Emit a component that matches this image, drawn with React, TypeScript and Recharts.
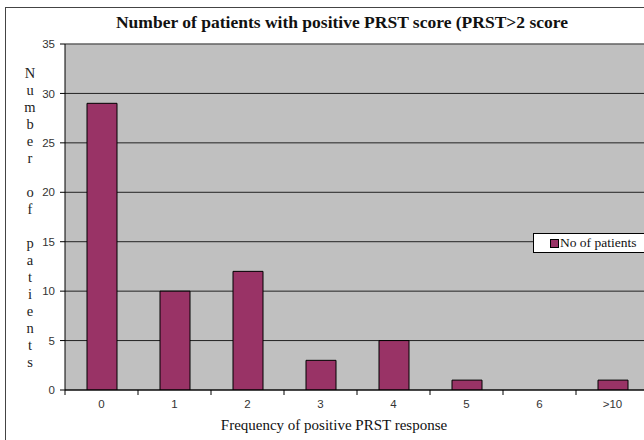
import React from 'react';
import { BarChart, Bar, XAxis, YAxis, CartesianGrid, Legend, ReferenceLine } from 'recharts';

const categories = ['0', '1', '2', '3', '4', '5', '6', '>10'];
const patients = [29, 10, 12, 3, 5, 1, 0, 1];
const yTicks = [0, 5, 10, 15, 20, 25, 30, 35];
const chartTitle = 'Number of patients with positive PRST score (PRST>2 score';
const xTitle = 'Frequency of positive PRST response';
const yTitle = 'Number of patients';
const seriesName = 'No of patients';

const data = categories.map((c, i) => ({ category: c, patients: patients[i] }));

const CHART_W = 660;
const CHART_H = 440;
const MARGIN = { top: 44, right: 11, bottom: 0, left: 0 };
const Y_AXIS_W = 65;
const X_AXIS_H = 50;
const plotW = CHART_W - MARGIN.left - MARGIN.right - Y_AXIS_W;
const bandW = plotW / categories.length;

const SERIF = '"Liberation Serif", "Times New Roman", serif';
const SANS = '"Liberation Sans", Arial, sans-serif';
const BAR_COLOR = '#993366';

const XTick = (props: any) => {
  const { x, y, payload, index } = props;
  const left = x - bandW / 2;
  const right = x + bandW / 2;
  return (
    <g>
      <line x1={left} x2={left} y1={y - 9} y2={y - 4} stroke="#000" strokeWidth={1} />
      {index === categories.length - 1 ? (
        <line x1={right} x2={right} y1={y - 9} y2={y - 4} stroke="#000" strokeWidth={1} />
      ) : null}
      <text x={x} y={y} dy="0.75em" textAnchor="middle" fontFamily={SANS} fontSize={11.5} fill="#333">
        {payload.value}
      </text>
    </g>
  );
};

const YTitle = (props: any) => {
  const vb = props.viewBox || { x: 0, y: 44, width: 65, height: 346 };
  const letters = yTitle.split('');
  const step = 17;
  const cy = vb.y + vb.height / 2;
  const startY = cy - ((letters.length - 1) * step) / 2;
  return (
    <g>
      {letters.map((ch, i) =>
        ch === ' ' ? null : (
          <text
            key={i}
            x={30}
            y={startY + i * step}
            dy="0.35em"
            textAnchor="middle"
            fontFamily={SERIF}
            fontSize={14.5}
            fill="#222"
          >
            {ch}
          </text>
        )
      )}
    </g>
  );
};

const LegendBox = () => (
  <div
    style={{
      background: '#fff',
      border: '1px solid #000',
      height: 20,
      width: 114,
      boxSizing: 'border-box',
      display: 'flex',
      alignItems: 'center',
      paddingLeft: 16,
      fontFamily: SERIF,
      fontSize: 13.5,
      color: '#111',
      whiteSpace: 'nowrap',
    }}
  >
    <span
      style={{
        display: 'inline-block',
        width: 7,
        height: 7,
        background: BAR_COLOR,
        border: '1px solid #000',
        marginRight: 1,
      }}
    />
    {seriesName}
  </div>
);

export default function App() {
  return (
    <div
      style={{
        position: 'fixed',
        left: 0,
        top: 0,
        width: 644,
        height: 440,
        overflow: 'hidden',
        background: '#fff',
      }}
    >
      <div
        style={{
          position: 'absolute',
          left: 5,
          top: 7,
          width: 700,
          height: 500,
          borderLeft: '1px solid #444',
          borderTop: '1px solid #444',
        }}
      />
      <div
        style={{
          position: 'absolute',
          left: 0,
          top: 13,
          width: 684,
          textAlign: 'center',
          fontFamily: SERIF,
          fontWeight: 'bold',
          fontSize: 17.5,
          lineHeight: '18px',
          color: '#111',
          whiteSpace: 'nowrap',
        }}
      >
        {chartTitle}
      </div>
      <div style={{ position: 'absolute', left: 0, top: 0 }}>
        <BarChart width={CHART_W} height={CHART_H} data={data} margin={MARGIN}>
          <CartesianGrid horizontal={true} vertical={false} fill="#C0C0C0" stroke="#222" strokeWidth={1} />
          <ReferenceLine y={35} stroke="#808080" strokeWidth={1} />
          <XAxis
            dataKey="category"
            height={X_AXIS_H}
            tickLine={false}
            tickSize={5}
            tickMargin={4}
            axisLine={{ stroke: '#000' }}
            tick={<XTick />}
            interval={0}
          />
          <YAxis
            width={Y_AXIS_W}
            domain={[0, 35]}
            ticks={yTicks}
            tickSize={5}
            tickMargin={5}
            axisLine={{ stroke: '#000' }}
            tickLine={{ stroke: '#000' }}
            tick={{ fontFamily: SANS, fontSize: 11.5, fill: '#333' }}
            label={<YTitle />}
            allowDataOverflow={true}
          />
          <Legend
            layout="vertical"
            align="center"
            verticalAlign="middle"
            wrapperStyle={{ position: 'absolute', left: 533, top: 233, right: 'auto', bottom: 'auto', width: 114 }}
            content={<LegendBox />}
          />
          <Bar
            dataKey="patients"
            name={seriesName}
            fill={BAR_COLOR}
            stroke="#000"
            strokeWidth={1}
            barSize={30}
            isAnimationActive={false}
          />
        </BarChart>
      </div>
      <div
        style={{
          position: 'absolute',
          left: 134,
          top: 417,
          width: 400,
          textAlign: 'center',
          fontFamily: SERIF,
          fontSize: 15,
          lineHeight: '16px',
          color: '#111',
          whiteSpace: 'nowrap',
        }}
      >
        {xTitle}
      </div>
    </div>
  );
}
